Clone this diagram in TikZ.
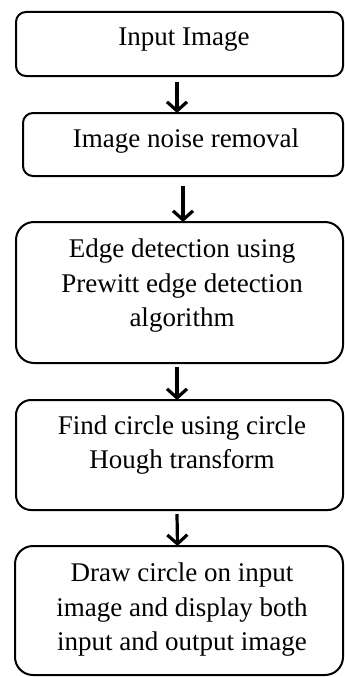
\documentclass[tikz,border=0pt]{standalone}
\usepackage{fontspec}
\setmainfont{Liberation Serif}
\usetikzlibrary{arrows.meta}

\begin{document}
\begin{tikzpicture}[x=1pt, y=-1pt,
  stepbox/.style={draw=black, line width=2pt, rectangle, inner sep=0pt, outer sep=0pt},
  steptext/.style={inner sep=0pt, align=center, font=\fontsize{27}{34.5}\selectfont, text=black},
  flow/.style={line width=3.2pt, -{Straight Barb[length=9pt, width=20pt, line width=3.2pt]}}
]
  \useasboundingbox (0,0) rectangle (345,677);

  % process boxes
  \node[stepbox, rounded corners=10pt, minimum width=327pt, minimum height=64pt]  (b1) at (179.5,44)    {};
  \node[stepbox, rounded corners=10pt, minimum width=320pt, minimum height=63pt]  (b2) at (183,144.5)   {};
  \node[stepbox, rounded corners=18pt, minimum width=327pt, minimum height=141pt] (b3) at (179.5,292.5) {};
  \node[stepbox, rounded corners=15pt, minimum width=327pt, minimum height=110pt] (b4) at (179.5,455)   {};
  \node[stepbox, rounded corners=18pt, minimum width=328pt, minimum height=129pt] (b5) at (179,610.5)   {};

  % box labels
  \node[steptext] (t1) at (184,40)  {Input Image};
  \node[steptext] (t2) at (186,141) {Image noise removal};
  \node[steptext] (t3) at (182,286) {Edge detection using\\Prewitt edge detection\\algorithm};
  \node[steptext] (t4) at (182,445) {Find circle using circle\\Hough transform};
  \node[steptext] (t5) at (182,610) {Draw circle on input\\image and display both\\input and output image};

  % connectors
  \draw[flow] ([xshift=-2.5pt, yshift=-6pt]b1.south) -- ([xshift=-6pt]b2.north);
  \draw[flow] ([yshift=-10pt]b2.south) -- ([xshift=3.5pt]b3.north);
  \draw[flow] ([xshift=-2.5pt, yshift=-4pt]b3.south) -- ([xshift=-2.5pt]b4.north);
  \draw[flow] ([xshift=-2.5pt, yshift=-4pt]b4.south) -- ([xshift=-1.5pt]b5.north);
\end{tikzpicture}
\end{document}
